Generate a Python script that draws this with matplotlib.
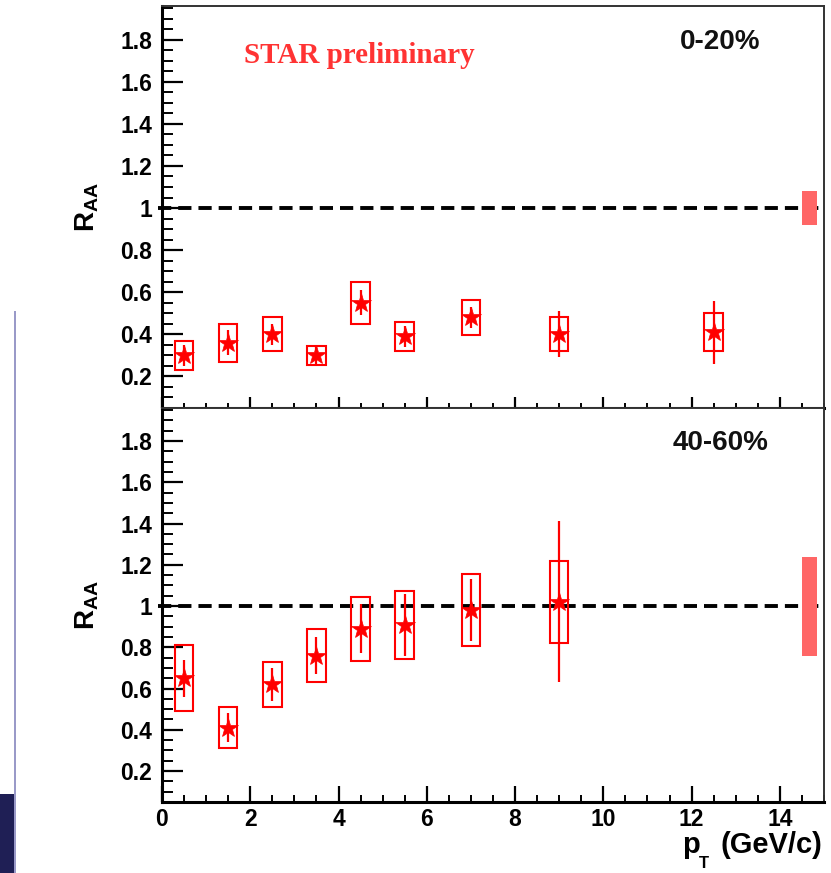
import matplotlib
matplotlib.use('Agg')
import matplotlib.pyplot as plt
import numpy as np
from matplotlib.patches import Rectangle
from matplotlib.ticker import MultipleLocator, FuncFormatter

plt.rcParams['font.family'] = ['Liberation Sans', 'DejaVu Sans']
plt.rcParams['font.weight'] = 'bold'
plt.rcParams['mathtext.fontset'] = 'custom'
plt.rcParams['mathtext.rm'] = 'Liberation Sans:bold'
plt.rcParams['mathtext.it'] = 'Liberation Sans:bold'

# pT bin centres
pt_central = [0.5, 1.5, 2.5, 3.5, 4.5, 5.5, 7.0, 9.0, 12.5]
pt_periph = [0.5, 1.5, 2.5, 3.5, 4.5, 5.5, 7.0, 9.0]

# 0-20% centrality
raa_central = [0.30, 0.36, 0.40, 0.30, 0.55, 0.39, 0.48, 0.40, 0.41]
stat_central = [0.05, 0.06, 0.05, 0.05, 0.06, 0.05, 0.05, 0.11, 0.15]
syst_central = [0.07, 0.09, 0.08, 0.045, 0.10, 0.07, 0.085, 0.08, 0.09]

# 40-60% centrality
raa_periph = [0.65, 0.41, 0.62, 0.76, 0.89, 0.91, 0.98, 1.02]
stat_periph = [0.09, 0.07, 0.08, 0.09, 0.12, 0.15, 0.15, 0.39]
syst_periph = [0.16, 0.10, 0.11, 0.13, 0.155, 0.165, 0.175, 0.20]

# normalisation uncertainty at unity
norm_central = 0.08
norm_periph = 0.24

labels = ['0-20%', '40-60%']

RED = '#ff0000'
XMIN, XMAX = 0, 15
YMIN, YMAX = 0.05, 1.96
BOX_HW = 0.21


def fmt_y(v, pos):
    s = '%.1f' % v
    if s.endswith('.0'):
        s = s[:-2]
    return s


def panel(ax, x, y, stat, syst, norm, label, show_xlabels, tick_scale):
    ax.set_xlim(XMIN, XMAX)
    ax.set_ylim(YMIN, YMAX)

    # reference line at unity
    ax.plot([XMIN - 0.1, XMAX], [1, 1], color='black', lw=2.8,
            dashes=(3.4, 1.8), clip_on=False, zorder=2)

    # normalisation box
    ax.add_patch(Rectangle((14.67 - 0.17, 1 - norm), 0.34, 2 * norm,
                           facecolor='#ff6666', edgecolor='none', zorder=3))

    # systematic boxes
    for xi, yi, si in zip(x, y, syst):
        ax.add_patch(Rectangle((xi - BOX_HW, yi - si), 2 * BOX_HW, 2 * si,
                               facecolor='none', edgecolor=RED, lw=1.5, zorder=4))

    ax.errorbar(x, y, yerr=stat, fmt='none', ecolor=RED, elinewidth=1.6,
                capsize=0, zorder=5)
    ax.plot(x, y, linestyle='none', marker='*', color=RED, markersize=15,
            markeredgewidth=0.5, zorder=6)

    ax.text(12.65, 1.79, label, fontsize=20, fontweight='bold',
            ha='center', va='center', color='#111111')

    ax.xaxis.set_major_locator(MultipleLocator(2))
    ax.xaxis.set_minor_locator(MultipleLocator(0.5))
    ax.yaxis.set_major_locator(MultipleLocator(0.2))
    ax.yaxis.set_minor_locator(MultipleLocator(0.05))
    ax.yaxis.set_major_formatter(FuncFormatter(fmt_y))

    ax.tick_params(axis='y', which='major', direction='in', length=15,
                   width=1.6, labelsize=16.5, pad=7, right=False)
    ax.tick_params(axis='y', which='minor', direction='in', length=8,
                   width=1.4, right=False)
    ax.tick_params(axis='x', which='major', direction='in',
                   length=8 * tick_scale, width=1.6, labelsize=16.5, pad=4,
                   top=False, labelbottom=show_xlabels)
    ax.tick_params(axis='x', which='minor', direction='in',
                   length=3.6 * tick_scale, width=1.4, top=False)

    for side in ['left', 'bottom']:
        ax.spines[side].set_linewidth(2.2)
    for side in ['top', 'right']:
        ax.spines[side].set_linewidth(1.4)
        ax.spines[side].set_color('#333333')

    ax.set_ylabel(r'$\mathrm{R_{AA}}$', fontsize=20, labelpad=14)


fig = plt.figure(figsize=(8.31, 8.73), dpi=100)

ax_top = fig.add_axes([162 / 831, 1 - 408 / 873, 662 / 831, 402 / 873])
ax_bot = fig.add_axes([162 / 831, 1 - 802 / 873, 662 / 831, 394 / 873])

panel(ax_top, pt_central, raa_central, stat_central, syst_central,
      norm_central, labels[0], False, 1.0)
panel(ax_bot, pt_periph, raa_periph, stat_periph, syst_periph,
      norm_periph, labels[1], True, 1.4)

ax_top.text(4.46, 1.725, 'STAR preliminary', fontsize=21, fontweight='bold',
            family='Liberation Serif', color='#ff3333', ha='center', va='center')

# x-axis title: p with a dropped T subscript, then the units
fig.text(682 / 831, 1 - 845 / 873, 'p', fontsize=21, fontweight='bold',
         ha='left', va='center')
fig.text(699 / 831, 1 - 864 / 873, 'T', fontsize=12, fontweight='bold',
         ha='left', va='center')
fig.text(822 / 831, 1 - 845 / 873, '(GeV/c)', fontsize=21, fontweight='bold',
         ha='right', va='center')

# slide frame on the left edge
fig.add_artist(Rectangle((14 / 831, 0), 2.5 / 831, 1 - 311 / 873,
                         transform=fig.transFigure, facecolor='#9a9ac8',
                         edgecolor='none'))
fig.add_artist(Rectangle((0, 0), 14 / 831, 1 - 794 / 873,
                         transform=fig.transFigure, facecolor='#1f1f55',
                         edgecolor='none'))

fig.savefig('out.png', dpi=100)
